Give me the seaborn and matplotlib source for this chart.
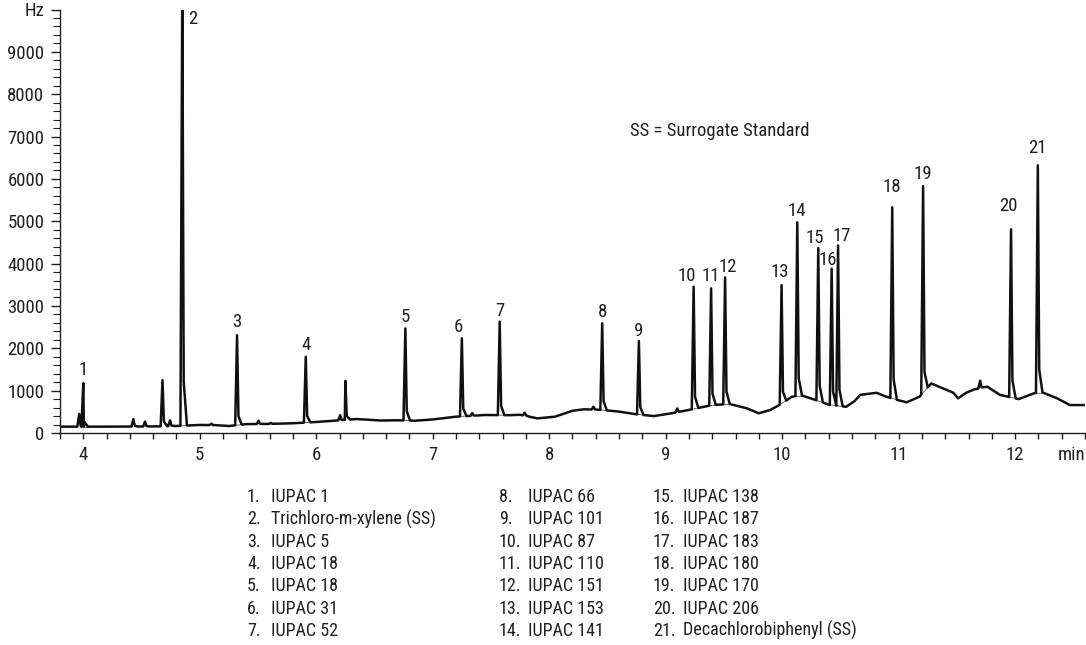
import numpy as np
import pandas as pd
import matplotlib
matplotlib.use("Agg")
import matplotlib.pyplot as plt
import seaborn as sns

# ---------------- data ----------------
# labelled peaks: retention time (min) and apex height (Hz)
peak_num = list(range(1, 22))
peak_t = [4.00, 4.85, 5.32, 5.91, 6.765, 7.25, 7.575, 8.455, 8.77, 9.24, 9.39,
          9.51, 9.995, 10.13, 10.31, 10.425, 10.48, 10.945, 11.21, 11.965, 12.195]
peak_h = [1175, 10600, 2310, 1800, 2470, 2235, 2630, 2590, 2170, 3455, 3415,
          3675, 3490, 4975, 4370, 3880, 4430, 5330, 5830, 4810, 6320]

# small unlabelled peaks
minor_t = [3.965, 4.43, 4.53, 4.68, 4.745, 5.10, 5.505, 5.61, 6.205, 6.25,
           7.34, 7.79, 8.38, 9.10, 11.70]
minor_h = [450, 330, 270, 1250, 300, 220, 290, 240, 420, 1230,
           470, 480, 620, 580, 1235]

# baseline (signal between peaks)
base_t = [3.80, 4.20, 4.60, 4.80, 5.00, 5.15, 5.25, 5.40, 5.60, 5.80, 6.00, 6.15,
          6.35, 6.55, 6.70, 6.85, 7.00, 7.20, 7.45, 7.65, 7.75, 7.90, 8.05, 8.20,
          8.30, 8.45, 8.60, 8.75, 8.90, 9.05, 9.20, 9.40, 9.55, 9.70, 9.80, 9.90,
          10.00, 10.08, 10.155, 10.27, 10.41, 10.55, 10.62, 10.67, 10.81, 10.89,
          11.01, 11.07, 11.18, 11.28, 11.38, 11.47, 11.51, 11.58, 11.65, 11.76,
          11.87, 12.03, 12.16, 12.22, 12.36, 12.47, 12.60]
base_y = [150, 150, 155, 165, 190, 185, 165, 210, 215, 230, 260, 290,
          330, 295, 300, 290, 320, 385, 425, 420, 430, 345, 385, 525,
          560, 545, 505, 440, 400, 465, 545, 660, 685, 580, 465, 545,
          700, 850, 900, 795, 660, 620, 750, 900, 950, 860,
          765, 725, 860, 1170, 1055, 950, 820, 950, 1030, 1095,
          900, 800, 935, 975, 820, 660, 660]

compound_names = ["IUPAC 1", "Trichloro-m-xylene (SS)", "IUPAC 5", "IUPAC 18",
                  "IUPAC 18", "IUPAC 31", "IUPAC 52", "IUPAC 66", "IUPAC 101",
                  "IUPAC 87", "IUPAC 110", "IUPAC 151", "IUPAC 153", "IUPAC 141",
                  "IUPAC 138", "IUPAC 187", "IUPAC 183", "IUPAC 180", "IUPAC 170",
                  "IUPAC 206", "Decachlorobiphenyl (SS)"]

x_ticks = [4, 5, 6, 7, 8, 9, 10, 11, 12]
y_ticks = [0, 1000, 2000, 3000, 4000, 5000, 6000, 7000, 8000, 9000, 10000]
y_tick_labels = ["0", "1000", "2000", "3000", "4000", "5000", "6000", "7000",
                 "8000", "9000", "Hz"]

# label offsets in pixels (dx, dy above apex) -- layout only
label_off = [(0, 13), (10, 0), (0, 13), (0, 12), (0, 11), (-3, 11), (0, 11),
             (0, 11), (0, 10), (-7, 11), (0, 12), (2.5, 10), (-1.5, 13),
             (0, 11), (-3.5, 10), (-3.5, 9), (4, 9), (0, 20), (0, 12),
             (-2.5, 23), (0, 17)]

# ---------------- build the trace ----------------
all_pk_t = np.array(peak_t + minor_t)
all_pk_h = np.array(peak_h + minor_h)
bt = np.array(base_t)
by = np.array(base_y)
LF, TL, RF = 0.016, 0.012, 0.040
pts = []
for t, y in zip(bt, by):
    if not np.any((t > all_pk_t - LF) & (t < all_pk_t + RF)):
        pts.append((t, y))
for t, h in zip(all_pk_t, all_pk_h):
    b = np.interp(t, bt, by)
    pts += [(t - LF, np.interp(t - LF, bt, by)), (t, h),
            (t + TL, b + 0.10 * (h - b)), (t + RF, np.interp(t + RF, bt, by))]
pts.sort(key=lambda p: p[0])
trace = pd.DataFrame(pts, columns=["t", "Hz"])

# ---------------- figure ----------------
sns.set_style("ticks")
plt.rcParams["font.family"] = ["Roboto Condensed", "DejaVu Sans"]
plt.rcParams["text.color"] = "#231f20"
FS = 13.5

fig = plt.figure(figsize=(10.86, 6.45), dpi=100)
ax = fig.add_axes([60 / 1086, 1 - 433 / 645, 1025 / 1086, 423.5 / 645])

# integration baselines (thin grey)
for t in peak_t:
    x0, x1 = t - 0.03, t + 0.06
    ax.plot([x0, x1], [np.interp(x0, bt, by), np.interp(x1, bt, by)],
            color="#555555", lw=0.6, zorder=1)

sns.lineplot(data=trace, x="t", y="Hz", ax=ax, color="#111111", lw=1.8,
             estimator=None, sort=False, zorder=2)

ax.set_xlim(3.8, 12.6)
ax.set_ylim(0, 10000)
ax.set_xticks(x_ticks)
ax.set_xticks(np.arange(3.8, 12.61, 0.2), minor=True)
ax.set_yticks(y_ticks)
ax.set_yticklabels(y_tick_labels)
ax.set_yticks(np.arange(0, 10001, 200), minor=True)
ax.set_xlabel("")
ax.set_ylabel("")
for s in ["top", "right"]:
    ax.spines[s].set_visible(False)
for s in ["left", "bottom"]:
    ax.spines[s].set_color("#231f20")
    ax.spines[s].set_linewidth(1.0)
ax.tick_params(axis="x", which="both", length=4.2, width=1.0, color="#231f20",
               labelsize=FS, pad=5, labelcolor="#231f20")
ax.tick_params(axis="y", which="major", length=6.7, width=1.0, color="#231f20",
               labelsize=FS, pad=4.6, labelcolor="#231f20")
ax.tick_params(axis="y", which="minor", length=4.8, width=0.8, color="#231f20")

ax.annotate("min", xy=(1, 0), xycoords="axes fraction", xytext=(0, -15.5),
            textcoords="offset points", ha="right", va="center", fontsize=FS)

# peak labels
for n, t, h, (dx, dy) in zip(peak_num, peak_t, peak_h, label_off):
    if n == 2:
        ax.annotate(str(n), xy=(t, 10000), xytext=(dx * 0.72, -9 * 0.72),
                    textcoords="offset points", ha="center", va="center",
                    fontsize=FS)
    else:
        ax.annotate(str(n), xy=(t, h), xytext=(dx * 0.72, dy * 0.72),
                    textcoords="offset points", ha="center", va="center",
                    fontsize=FS)

fig.text(630 / 1086, 1 - 131.5 / 645, "SS = Surrogate Standard", fontsize=FS,
         ha="left", va="center")

# compound key
col_x = [247, 499, 653]
name_x = [271, 527.5, 683]
for i, name in enumerate(compound_names):
    c, r = divmod(i, 7)
    y = 1 - (497 + r * 22.3) / 645
    fig.text(col_x[c] / 1086, y, f"{i + 1}.", fontsize=13, ha="left", va="center")
    fig.text(name_x[c] / 1086, y, name, fontsize=13, ha="left", va="center")

fig.savefig("out.png", dpi=100)
